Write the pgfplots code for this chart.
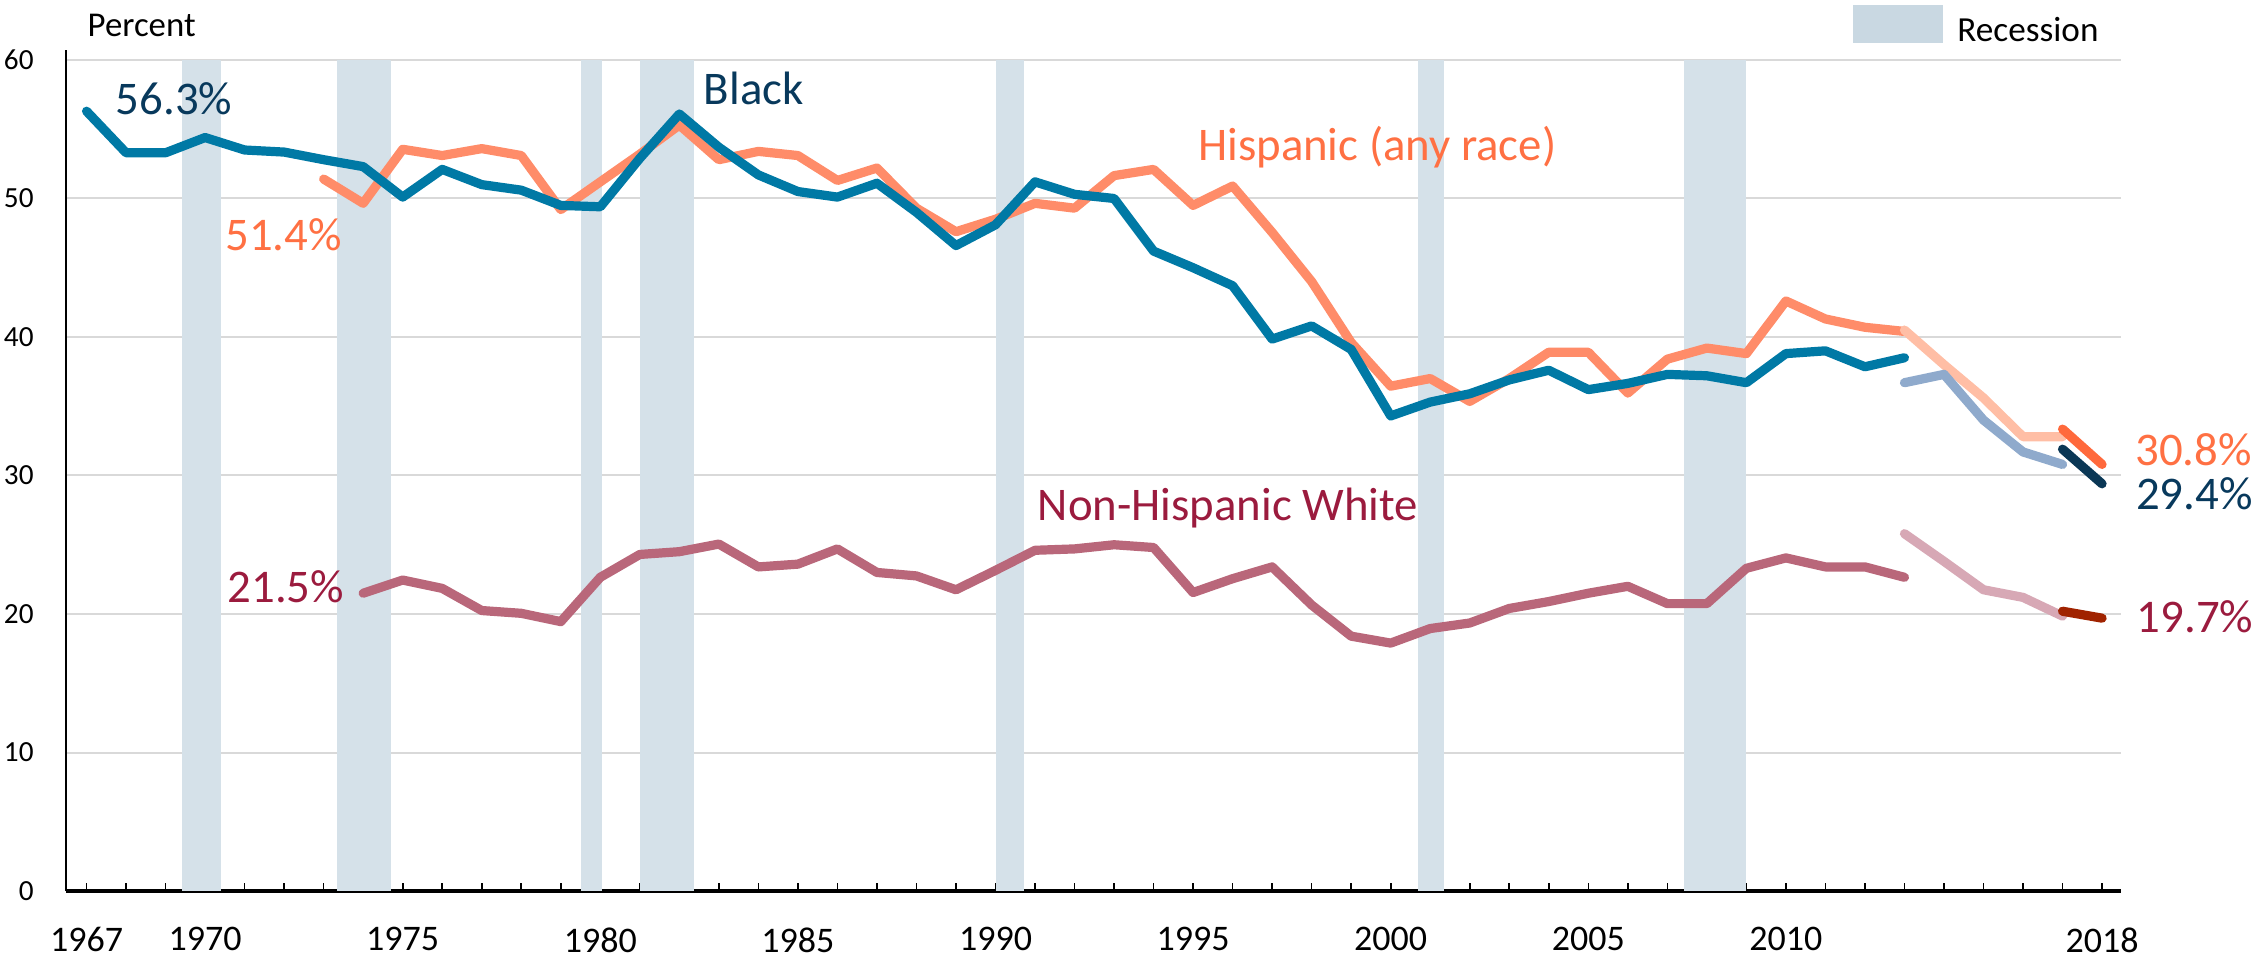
\documentclass[border=0pt]{standalone}
\usepackage{fontspec}
\setmainfont{Carlito}
\usepackage{pgfplots}
\pgfplotsset{compat=1.18}
\definecolor{rec}{RGB}{213,225,233}
\definecolor{recleg}{RGB}{201,216,226}
\definecolor{gridc}{RGB}{217,217,217}
\definecolor{bmain}{RGB}{0,121,165}
\definecolor{btext}{RGB}{8,57,92}
\definecolor{blight}{RGB}{143,170,204}
\definecolor{bdark}{RGB}{10,55,85}
\definecolor{hmain}{RGB}{255,140,105}
\definecolor{htext}{RGB}{255,112,67}
\definecolor{hlight}{RGB}{255,190,165}
\definecolor{hdark}{RGB}{255,105,60}
\definecolor{wmain}{RGB}{185,103,122}
\definecolor{wtext}{RGB}{155,27,62}
\definecolor{wlight}{RGB}{215,168,181}
\definecolor{wdark}{RGB}{160,35,0}

\pgfplotstableread{
year val
1967 56.3
1968 53.3
1969 53.3
1970 54.4
1971 53.5
1972 53.35
1973 52.8
1974 52.3
1975 50.1
1976 52.1
1977 51.0
1978 50.6
1979 49.5
1980 49.4
1981 52.9
1982 56.1
1983 53.7
1984 51.7
1985 50.5
1986 50.1
1987 51.1
1988 49.0
1989 46.6
1990 48.1
1991 51.2
1992 50.3
1993 50.0
1994 46.2
1995 45.0
1996 43.7
1997 39.85
1998 40.8
1999 39.1
2000 34.3
2001 35.3
2002 35.9
2003 36.9
2004 37.6
2005 36.2
2006 36.65
2007 37.3
2008 37.2
2009 36.7
2010 38.8
2011 39.0
2012 37.85
2013 38.5
}\blackA
\pgfplotstableread{
year val
2013 36.7
2014 37.3
2015 34.0
2016 31.7
2017 30.8
}\blackB
\pgfplotstableread{
year val
2017 31.9
2018 29.4
}\blackC
\pgfplotstableread{
year val
1973 51.4
1974 49.65
1975 53.55
1976 53.1
1977 53.6
1978 53.1
1979 49.2
1980 51.2
1981 53.2
1982 55.3
1983 52.8
1984 53.4
1985 53.1
1986 51.3
1987 52.2
1988 49.3
1989 47.6
1990 48.5
1991 49.65
1992 49.3
1993 51.65
1994 52.1
1995 49.5
1996 50.9
1997 47.55
1998 44.0
1999 39.6
2000 36.45
2001 37.0
2002 35.35
2003 37.0
2004 38.9
2005 38.9
2006 35.95
2007 38.4
2008 39.2
2009 38.8
2010 42.6
2011 41.3
2012 40.7
2013 40.4
}\hispA
\pgfplotstableread{
year val
2013 40.5
2014 38.0
2015 35.6
2016 32.8
2017 32.8
}\hispB
\pgfplotstableread{
year val
2017 33.35
2018 30.8
}\hispC
\pgfplotstableread{
year val
1974 21.5
1975 22.45
1976 21.85
1977 20.25
1978 20.05
1979 19.45
1980 22.65
1981 24.3
1982 24.5
1983 25.05
1984 23.4
1985 23.6
1986 24.7
1987 23.0
1988 22.75
1989 21.75
1990 23.15
1991 24.6
1992 24.7
1993 25.0
1994 24.8
1995 21.55
1996 22.55
1997 23.4
1998 20.65
1999 18.4
2000 17.9
2001 18.95
2002 19.35
2003 20.4
2004 20.9
2005 21.5
2006 22.0
2007 20.75
2008 20.75
2009 23.3
2010 24.05
2011 23.4
2012 23.4
2013 22.65
}\whiteA
\pgfplotstableread{
year val
2013 25.8
2014 23.8
2015 21.75
2016 21.2
2017 19.85
}\whiteB
\pgfplotstableread{
year val
2017 20.2
2018 19.7
}\whiteC

\begin{document}
\begin{tikzpicture}
\path[use as bounding box] (-16.5pt,-16.75pt) rectangle (547pt,222.75pt);
\begin{axis}[
  at={(0pt,0pt)}, anchor=south west,
  scale only axis, width=513.75pt, height=210.25pt,
  xmin=1966.48, xmax=2018.48, ymin=0, ymax=60.72,
  axis x line=bottom, axis y line=left,
  axis line style={-},
  x axis line style={line width=0.8pt, black},
  y axis line style={line width=0.5pt, black},
  xtick={1967,1970,1975,1980,1985,1990,1995,2000,2005,2010,2018},
  xticklabels={1967,1970,1975,1980,1985,1990,1995,2000,2005,2010,2018},
  minor xtick={1967,1968,...,2018},
  tick align=inside,
  major tick length=2pt, minor tick length=2pt,
  xtick style={black, line width=0.4pt},
  minor x tick style={black, line width=0.4pt},
  ytick={0,10,...,60},
  ytick style={draw=none},
  ymajorgrids,
  grid style={line width=0.5pt, gridc},
  /pgf/number format/assume math mode=true,
  /pgf/number format/1000 sep={},
  xticklabel style={font=\fontsize{9}{10}\selectfont, anchor=north, inner sep=0pt, yshift=-8.9pt},
  yticklabel style={font=\fontsize{7.3}{8}\selectfont, anchor=east, inner sep=0pt, xshift=-7.9pt},
  clip=false,
  every axis plot/.append style={line join=round, line cap=round},
]
% recession bands
\addplot[fill=rec, draw=none, forget plot] coordinates {(1969.41,60) (1970.40,60)} \closedcycle;
\addplot[fill=rec, draw=none, forget plot] coordinates {(1973.33,60) (1974.71,60)} \closedcycle;
\addplot[fill=rec, draw=none, forget plot] coordinates {(1979.51,60) (1980.05,60)} \closedcycle;
\addplot[fill=rec, draw=none, forget plot] coordinates {(1981.00,60) (1982.37,60)} \closedcycle;
\addplot[fill=rec, draw=none, forget plot] coordinates {(1990.01,60) (1990.72,60)} \closedcycle;
\addplot[fill=rec, draw=none, forget plot] coordinates {(2000.68,60) (2001.36,60)} \closedcycle;
\addplot[fill=rec, draw=none, forget plot] coordinates {(2007.43,60) (2008.98,60)} \closedcycle;

% series
\addplot[wmain, line width=2.3pt] table[x=year,y=val] {\whiteA};
\addplot[wlight, line width=2.3pt] table[x=year,y=val] {\whiteB};
\addplot[wdark, line width=2.3pt] table[x=year,y=val] {\whiteC};
\addplot[hmain, line width=2.3pt] table[x=year,y=val] {\hispA};
\addplot[hlight, line width=2.3pt] table[x=year,y=val] {\hispB};
\addplot[hdark, line width=2.3pt] table[x=year,y=val] {\hispC};
\addplot[bmain, line width=2.3pt] table[x=year,y=val] {\blackA};
\addplot[blight, line width=2.3pt] table[x=year,y=val] {\blackB};
\addplot[bdark, line width=2.3pt] table[x=year,y=val] {\blackC};

% labels
\def\lf{\fontsize{11.7}{13}\selectfont}
\node[anchor=base west, inner sep=0pt, text=btext, font=\lf] at (axis cs:1967.72,56.03) {56.3\%};
\node[anchor=base west, inner sep=0pt, text=btext, font=\lf] at (axis cs:1982.60,56.82) {Black};
\node[anchor=base west, inner sep=0pt, text=htext, font=\lf] at (axis cs:1970.49,46.21) {51.4\%};
\node[anchor=base west, inner sep=0pt, text=htext, font=\lf] at (axis cs:1995.11,52.73) {Hispanic (any race)};
\node[anchor=base west, inner sep=0pt, text=wtext, font=\lf] at (axis cs:1970.55,20.82) {21.5\%};
\node[anchor=base west, inner sep=0pt, text=wtext, font=\lf] at (axis cs:1991.05,26.74) {Non-Hispanic White};
\node[anchor=base west, inner sep=0pt, text=htext, font=\lf] at (axis cs:2018.82,30.69) {30.8\%};
\node[anchor=base west, inner sep=0pt, text=btext, font=\lf] at (axis cs:2018.84,27.51) {29.4\%};
\node[anchor=base west, inner sep=0pt, text=wtext, font=\lf] at (axis cs:2018.86,18.63) {19.7\%};
\node[anchor=base west, inner sep=0pt, text=black, font=\fontsize{8.7}{10}\selectfont] at (axis cs:1967.01,61.68) {Percent};
% legend
\fill[recleg] (axis cs:2011.69,61.23) rectangle (axis cs:2013.97,63.97);
\node[anchor=base west, inner sep=0pt, text=black, font=\fontsize{8.8}{10}\selectfont] at (axis cs:2014.32,61.33) {Recession};
\end{axis}
\end{tikzpicture}
\end{document}
